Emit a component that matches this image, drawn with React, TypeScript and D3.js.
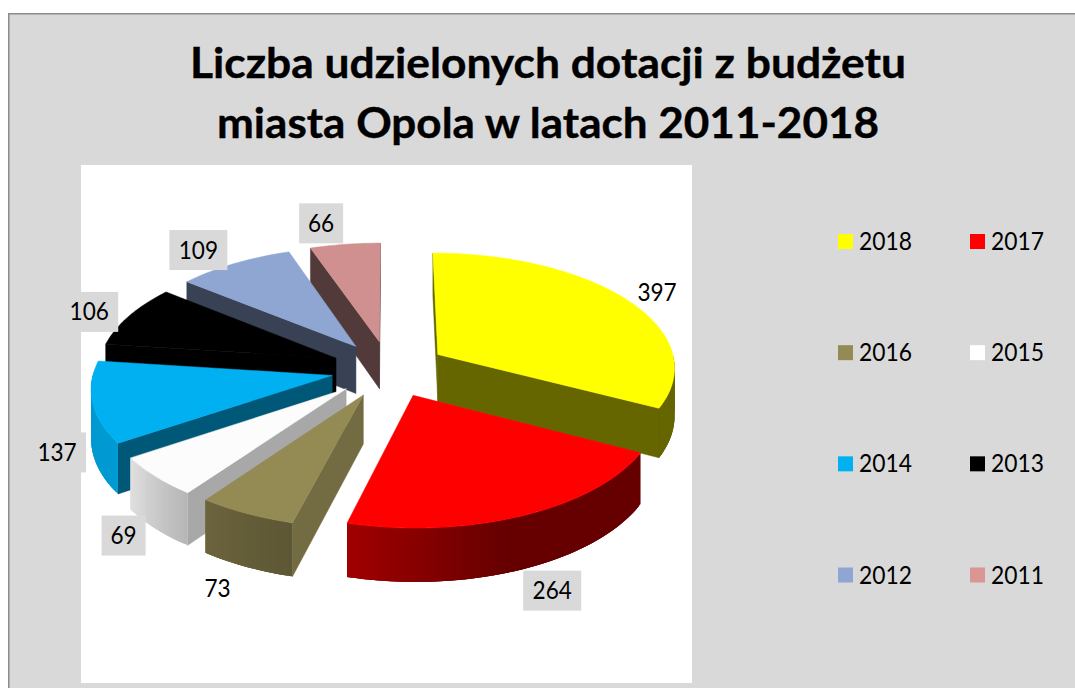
import React from "react";
import * as d3 from "d3";

const titleLines = ["Liczba udzielonych dotacji z budżetu", "miasta Opola w latach 2011-2018"];
const years = ["2018", "2017", "2016", "2015", "2014", "2013", "2012", "2011"];
const counts = [397, 264, 73, 69, 137, 106, 109, 66];
const sliceColors = ["#ffff00", "#ff0000", "#948a54", "#fcfcfc", "#00b0f0", "#000000", "#8fa6d2", "#d09090"];
const labelBoxed = [false, true, false, true, true, true, true, true];
const drawOrder = ["2011", "2012", "2013", "2014", "2015", "2016", "2018", "2017"];

// layout of the projected, exploded disk
const W = 1075, H = 688;
const CX = 389, CY = 369, R = 238, EXPLODE = 58, TILT = 0.487, PERSP = 0.1, DEPTH = 48;
const labelNudge = [[32, -6], [29, 75], [-29, 75], [-32, 59], [-35.5, 50], [-40, -4], [-36, -13.5], [-24, -21]];

const deg = (r: number) => ((r * 180) / Math.PI + 360) % 360;
const rimShade = d3.scaleLinear().domain([90, 160, 195, 216, 236, 280]).range([0.4, 0.4, 0.63, 0.72, 0.88, 0.85]).clamp(true);
const faceShade = d3.scaleLinear().domain([90, 105, 126, 147, 207, 270]).range([0.4, 0.78, 0.67, 0.5, 0.4, 0.4]).clamp(true);
const darken = (c: string, k: number) => {
  const q = d3.rgb(c);
  return d3.rgb(q.r * k, q.g * k, q.b * k).formatHex();
};

function project(ox: number, oz: number, a: number, r: number, drop = 0): [number, number] {
  const X = ox + r * Math.sin(a);
  const Z = oz - r * Math.cos(a);
  const p = 1 + (PERSP * Z) / R;
  return [CX + X * p, CY + Z * TILT * p + drop * p];
}

const line = d3.line();
const pieLayout = d3.pie<number>().sort(null).value((d) => d);
const arcs = pieLayout(counts);

function Slice({ i }: { i: number }) {
  const arc = arcs[i];
  const a0 = arc.startAngle, a1 = arc.endAngle;
  const mid = (a0 + a1) / 2;
  const ox = EXPLODE * Math.sin(mid), oz = -EXPLODE * Math.cos(mid);
  const col = sliceColors[i];
  const steps = d3.range(0, Math.ceil(deg(a1 - a0)) + 1).map((s) => Math.min(a0 + (s * Math.PI) / 180, a1));
  const top = [project(ox, oz, 0, 0), ...steps.map((a) => project(ox, oz, a, R))] as [number, number][];

  const face = (a: number, normal: number) => {
    if (-Math.cos(normal) < -0.01) return null;
    const pts = [project(ox, oz, a, 0), project(ox, oz, a, R), project(ox, oz, a, R, DEPTH), project(ox, oz, a, 0, DEPTH)] as [number, number][];
    const f = darken(col, faceShade(deg(normal)));
    return <path d={line(pts) + "Z"} fill={f} stroke={f} strokeWidth={0.5} />;
  };

  // one band per degree; each runs on under the next one, so that no seams show
  const rim = steps.slice(0, -1).map((a, s) => {
    const b = steps[s + 1];
    if (Math.cos((a + b) / 2) >= 0) return null;
    const bb = Math.min(b + (2 * Math.PI) / 180, a1);
    const along = [a, (a + bb) / 2, bb];
    const pts = [
      ...along.map((t) => project(ox, oz, t, R)),
      ...along.slice().reverse().map((t) => project(ox, oz, t, R, DEPTH)),
    ] as [number, number][];
    const f = darken(col, rimShade(deg((a + b) / 2)));
    return <path key={s} d={line(pts) + "Z"} fill={f} />;
  });

  return (
    <g>
      {face(a0, a0 - Math.PI / 2)}
      {face(a1, a1 + Math.PI / 2)}
      {rim}
      <path d={line(top) + "Z"} fill={col} stroke={col} strokeWidth={0.5} />
    </g>
  );
}

function Label({ i }: { i: number }) {
  const arc = arcs[i];
  const mid = (arc.startAngle + arc.endAngle) / 2;
  const [ax, ay] = project(0, 0, mid, R + EXPLODE);
  const x = ax + labelNudge[i][0], y = ay + labelNudge[i][1];
  const text = String(counts[i]);
  const w = text.length === 3 ? 58 : 44;
  return (
    <g>
      {labelBoxed[i] && <rect x={x - w / 2} y={y - 20} width={w} height={40} fill="#d9d9d9" />}
      <text x={x} y={y + 8.5} textAnchor="middle" fontSize={25} textLength={text.length * 13.1} lengthAdjust="spacingAndGlyphs" fill="#000">{text}</text>
    </g>
  );
}

const rowY = d3.scalePoint<number>().domain([0, 1, 2, 3]).range([241.5, 575]);
const colX = d3.scalePoint<number>().domain([0, 1]).range([838, 970]);
const legendColor = (c: string) => (c === "#d09090" ? "#d99694" : c === "#fcfcfc" ? "#ffffff" : c);

export default function App() {
  return (
    <svg width={W} height={H} viewBox={`0 0 ${W} ${H}`} style={{ position: "absolute", left: 0, top: 0, fontFamily: "Lato, Carlito, sans-serif" }}>
      <rect width={W} height={H} fill="#ffffff" />
      <rect x={8} y={13} width={W - 8} height={H - 13} fill="#d9d9d9" />
      <path d={`M8.75 ${H}V13.75H${W}`} fill="none" stroke="#8c8c8c" strokeWidth={1.5} />
      <rect x={81} y={165} width={611} height={518} fill="#ffffff" />
      {titleLines.map((t, i) => (
        <text key={t} x={548} y={78 + i * 60} textAnchor="middle" fontSize={42} fontWeight={700} stroke="#000" strokeWidth={0.4} textLength={i === 0 ? 716 : 662} lengthAdjust="spacingAndGlyphs" fill="#000">{t}</text>
      ))}
      {drawOrder.map((y) => <Slice key={y} i={years.indexOf(y)} />)}
      {years.map((y, i) => <Label key={y} i={i} />)}
      {years.map((y, i) => {
        const cx = colX(i % 2)!, cy = rowY(Math.floor(i / 2))!;
        return (
          <g key={y}>
            <rect x={cx} y={cy - 7.5} width={15} height={15} fill={legendColor(sliceColors[i])} />
            <text x={cx + 21} y={cy + 8.5} fontSize={25} textLength={53} lengthAdjust="spacingAndGlyphs" fill="#000">{y}</text>
          </g>
        );
      })}
    </svg>
  );
}
